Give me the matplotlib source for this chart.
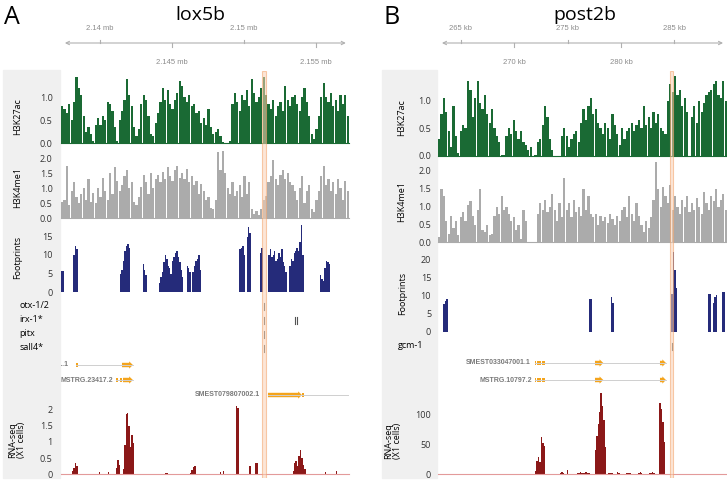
import numpy as np
import matplotlib
matplotlib.use("Agg")
import matplotlib.pyplot as plt
from matplotlib.patches import Rectangle, Polygon

plt.rcParams['font.family'] = ['Open Sans', 'DejaVu Sans']

W, H = 727, 484

# ---------------- panel A : lox5b (positions in kb) ----------------
a_xlim = (2137.3, 2157.3)
a_ruler_top = [2140, 2150]
a_ruler_top_labels = ['2.14 mb', '2.15 mb']
a_ruler_bot = [2145, 2155]
a_ruler_bot_labels = ['2.145 mb', '2.155 mb']
a_ruler_ends = (2137.57, 2157.08)
a_highlight = (2151.25, 2151.53)

a_h3k27ac = [0.8, 0.75, 0.65, 0.85, 0.5, 0.9, 1.45, 1.2, 1.05, 0.6,
             0.25, 0.35, 0.2, 0.05, 0.4, 0.55, 0.4, 0.6, 0.5, 0.9,
             0.85, 0.7, 0.35, 0.05, 0.5, 0.7, 0.95, 1.4, 1.05, 0.8,
             0.35, 0.15, 0.3, 0.85, 1.05, 0.95, 0.6, 0.2, 0.15, 0.45,
             0.65, 0.9, 1.2, 0.95, 1.15, 0.85, 0.75, 0.95, 1.1, 1.35,
             1.25, 1.0, 0.9, 1.05, 0.8, 0.85, 0.65, 0.7, 0.45, 0.55,
             0.4, 0.75, 0.35, 0.2, 0.25, 0.3, 0.15, 0.02, 0.0, 0.0,
             0.05, 0.85, 1.1, 0.9, 0.7, 1.05, 0.95, 1.15, 0.8, 1.4,
             1.1, 0.9, 1.0, 1.2, 1.45, 1.05, 0.85, 0.75, 0.95, 0.6,
             0.8, 0.9, 0.7, 1.25, 0.95, 0.8, 1.0, 1.05, 0.85, 0.7,
             1.0, 1.2, 0.9, 0.6, 0.2, 0.1, 0.3, 0.6, 1.0, 1.3,
             1.0, 0.9, 1.1, 0.8, 0.95, 0.7, 1.05, 0.85, 1.05, 0.6]

a_h3k4me1 = [0.55, 0.6, 1.75, 0.45, 0.9, 1.2, 0.7, 0.5, 0.8, 1.0,
             0.6, 1.3, 0.55, 0.85, 0.5, 1.0, 0.7, 1.35, 0.9, 0.6,
             1.5, 0.8, 1.7, 1.25, 0.9, 1.1, 1.4, 1.6, 1.0, 1.2,
             0.55, 0.45, 0.7, 1.05, 1.45, 1.2, 0.8, 1.5, 1.0, 1.3,
             1.45, 1.2, 1.55, 1.3, 1.7, 1.4, 1.25, 1.6, 1.75, 1.35,
             1.5, 1.3, 1.65, 1.2, 1.4, 1.1, 1.25, 0.8, 1.15, 0.9,
             0.6, 0.7, 0.35, 0.3, 0.6, 2.2, 1.6, 2.25, 1.5, 1.0,
             0.8, 1.2, 0.75, 0.9, 1.1, 0.7, 1.4, 0.8, 1.2, 0.3,
             0.15, 0.25, 0.1, 0.3, 0.6, 0.75, 1.2, 1.4, 1.95, 1.3,
             1.1, 1.45, 1.6, 1.3, 1.5, 1.2, 1.1, 0.9, 0.6, 1.0,
             1.4, 0.5, 0.9, 1.1, 0.3, 0.2, 0.6, 0.9, 1.4, 1.75,
             1.1, 1.3, 0.9, 1.2, 0.8, 1.3, 1.0, 0.6, 1.25, 0.9]

a_fp_step = 0.1
a_footprints = [
    (2137.3, [5.7, 5.7]),
    (2138.15, [10, 12.5, 11.5]),
    (2141.39, [5, 6, 8.5, 11, 12.5, 13, 12]),
    (2142.96, [7.5, 6, 4.5]),
    (2144.1, [2.5, 4, 5.5, 8, 10, 9, 7, 6.5, 5, 8.5, 9.5, 10.5, 11, 9.5, 8, 6, 4]),
    (2146.02, [7, 6.5, 5.5]),
    (2146.43, [5.5, 7, 8.5, 9, 10, 6]),
    (2149.68, [11.5, 12, 12.5, 10]),
    (2150.19, [15, 17.5, 16]),
    (2151.11, [10.5, 12]),
    (2151.69, [10, 11.5, 9.5, 10, 11, 8.5, 9, 10.5, 9.5, 11.5, 8, 7, 5.5]),
    (2153.15, [7, 9, 8.5, 10.5, 11, 12, 11, 13.5, 18, 10]),
    (2155.28, [4.5, 3.5, 3, 6.5, 8.5, 8, 7.5]),
]

a_motifs = ['otx-1/2', 'irx-1*', 'pitx', 'sall4*']
a_motif_hits = [[2151.39], [2151.39, 2153.54, 2153.66], [2151.39], [2151.39]]

a_gene_names = ['SMEST079807001.1', 'MSTRG.23417.2', 'SMEST079807002.1']
a_gene_label_end = [2137.82, 2140.95, 2151.11]
a_gene_spans = [(2138.33, 2142.29), (2141.11, 2142.29), (2151.67, 2157.29)]
a_gene_exons = [[(2138.33, 2138.47)],
                [(2141.11, 2141.25), (2141.39, 2141.53)],
                [(2154.06, 2154.17)]]
a_gene_arrows = [[(2141.53, 2142.29)], [(2141.6, 2142.29)], [(2151.67, 2154.03)]]

a_rna_step = 0.1
a_rna = [
    (2138.06, [0.1, 0.2, 0.35, 0.25]),
    (2139.93, [0.08]),
    (2140.56, [0.07]),
    (2141.11, [0.2, 0.45, 0.3]),
    (2141.58, [0.15, 0.9, 1.85, 1.9, 1.5, 0.85, 1.2, 0.95]),
    (2144.51, [0.05, 0.05]),
    (2146.25, [0.05, 0.12, 0.22, 0.25]),
    (2148.33, [0.08]),
    (2148.54, [0.1]),
    (2149.44, [2.1, 2.05]),
    (2150.38, [0.25]),
    (2150.76, [0.35, 0.35]),
    (2153.38, [0.1, 0.35, 0.4, 0.25, 0.55, 0.75, 0.5, 0.3, 0.15]),
    (2155.63, [0.08]),
    (2156.39, [0.1]),
]

# ---------------- panel B : post2b (positions in kb) ----------------
b_xlim = (262.85, 289.93)
b_ruler_top = [265, 275, 285]
b_ruler_top_labels = ['265 kb', '275 kb', '285 kb']
b_ruler_bot = [270, 280]
b_ruler_bot_labels = ['270 kb', '280 kb']
b_ruler_ends = (263.22, 289.56)
b_highlight = (284.59, 284.87)

b_h3k27ac = [0.3, 0.75, 1.05, 0.8, 0.45, 0.15, 0.9, 0.35, 0.05, 0.45,
             0.55, 0.5, 1.35, 1.2, 0.7, 1.05, 1.35, 0.95, 0.85, 1.1,
             0.75, 0.6, 0.85, 0.5, 0.35, 0.25, 0.02, 0.02, 0.35, 0.5,
             0.4, 0.65, 0.45, 0.3, 0.45, 0.25, 0.2, 0.1, 0.15, 0.0,
             0.02, 0.25, 0.3, 0.55, 0.9, 0.7, 0.3, 0.1, 0.0, 0.0,
             0.0, 0.35, 0.5, 0.35, 0.15, 0.3, 0.4, 0.45, 0.25, 0.6,
             0.85, 0.65, 0.9, 1.05, 0.75, 0.85, 0.6, 0.5, 0.4, 0.6,
             0.5, 0.3, 0.75, 0.55, 0.4, 0.2, 0.5, 0.3, 0.45, 0.5,
             0.6, 0.45, 0.55, 0.65, 0.5, 0.9, 0.55, 0.7, 0.5, 0.8,
             0.6, 0.75, 0.5, 0.45, 0.4, 1.0, 1.3, 1.15, 1.45, 1.1,
             1.2, 0.9, 1.05, 0.8, 0.0, 0.7, 0.9, 0.6, 1.0, 0.8,
             0.95, 1.1, 1.15, 1.2, 1.3, 1.35, 1.1, 1.05, 1.35, 1.0]

b_h3k4me1 = [0.15, 1.5, 1.3, 0.6, 0.25, 0.75, 0.4, 0.6, 0.2, 0.7,
             0.85, 0.6, 1.05, 1.15, 0.75, 0.5, 0.9, 1.5, 0.35, 0.3,
             0.5, 0.2, 0.25, 0.75, 1.0, 0.8, 1.3, 0.9, 1.0, 0.8,
             0.6, 0.7, 0.35, 0.5, 0.1, 0.9, 0.6, 0.0, 0.0, 0.0,
             0.02, 0.8, 1.1, 0.9, 1.2, 0.85, 1.0, 1.35, 0.9, 0.6,
             1.1, 0.7, 1.8, 0.9, 1.1, 0.7, 1.2, 0.85, 1.0, 0.75,
             1.5, 0.9, 1.3, 0.8, 0.7, 0.8, 0.5, 0.75, 0.6, 0.7,
             0.55, 0.8, 0.65, 0.5, 0.75, 0.6, 0.9, 1.0, 0.7, 1.3,
             0.8, 0.6, 1.1, 0.75, 0.5, 0.3, 0.6, 0.4, 0.7, 1.2,
             2.25, 1.5, 1.0, 1.55, 1.3, 1.1, 1.6, 0.9, 1.3, 1.0,
             0.8, 1.2, 1.0, 1.3, 0.85, 1.1, 0.9, 1.25, 1.0, 0.8,
             1.4, 1.1, 0.9, 1.3, 1.15, 1.5, 1.0, 1.2, 1.35, 0.9]

b_fp_step = 0.135
b_footprints = [
    (263.34, [7.5, 8.5, 9]),
    (277.02, [9, 9]),
    (279.06, [9.5, 8]),
    (284.72, [10.5, 22, 17, 12]),
    (288.12, [10.5, 10.5]),
    (288.59, [8, 9.5, 10]),
    (289.49, [11, 11]),
]

b_motifs = ['gcm-1']
b_motif_hits = [[284.75]]

b_gene_names = ['SMEST033047001.1', 'MSTRG.10797.2']
b_gene_label_end = [271.53, 271.65]
b_gene_spans = [(271.94, 284.21), (271.94, 284.21)]
b_gene_exons = [[(271.94, 272.05), (272.12, 272.5), (272.56, 272.87)],
                [(271.94, 272.05), (272.12, 272.5), (272.56, 272.87)]]
b_gene_arrows = [[(277.56, 278.34), (283.65, 284.21)],
                 [(277.56, 278.34), (283.65, 284.21)]]

b_rna_step = 0.135
b_rna = [
    (271.94, [5, 22, 28, 20, 62, 52, 48]),
    (274.28, [2, 3, 2]),
    (274.9, [6]),
    (275.84, [2, 2, 3, 2, 1, 2, 3, 2, 2]),
    (277.53, [40, 65, 85, 105, 137, 115, 92, 45]),
    (278.8, [2, 1, 2]),
    (279.6, [3, 2]),
    (280.5, [2, 2, 1]),
    (281.6, [2, 3, 2]),
    (282.6, [2, 2, 3, 2]),
    (283.6, [120, 110, 88, 55]),
]

# colours
GREEN = '#1a6a34'
GREY = '#ababab'
NAVY = '#252b7a'
DARKRED = '#8b1818'
ORANGE = '#f4a41c'
LABELBG = '#f0f0f0'

fig = plt.figure(figsize=(W / 100, H / 100), dpi=100)


def px_axes(x0, y0, x1, y1):
    ax = fig.add_axes([x0 / W, 1 - y1 / H, (x1 - x0) / W, (y1 - y0) / H])
    ax.patch.set_visible(False)
    for s in ax.spines.values():
        s.set_visible(False)
    ax.set_xticks([])
    ax.set_yticks([])
    return ax


def ftext(x, y, s, **kw):
    fig.text(x / W, 1 - y / H, s, **kw)


def yticks(ax, ticks, labels, pad):
    ax.set_yticks(ticks)
    ax.set_yticklabels(labels, fontsize=6.5, color='#333333')
    ax.tick_params(axis='y', length=0, pad=pad)


def signal(xpx, ytop, ybase, unit, xlim, vals, color, ticks, labels, pad):
    ax = px_axes(xpx[0], ytop, xpx[1], ybase)
    ax.set_xlim(xlim)
    ax.set_ylim(0, (ybase - ytop) / unit)
    edges = np.linspace(xlim[0], xlim[1], len(vals) + 1)
    ax.bar(edges[:-1], vals, width=(edges[1] - edges[0]) * 0.92, align='edge',
           color=color, linewidth=0)
    ax.axhline(0, color=color, lw=0.8, clip_on=False)
    yticks(ax, ticks, labels, pad)
    return ax


def peaks(xpx, ytop, ybase, unit, xlim, pk, step, color, ticks, labels, pad):
    ax = px_axes(xpx[0], ytop, xpx[1], ybase)
    ax.set_xlim(xlim)
    ax.set_ylim(0, (ybase - ytop) / unit)
    for start, hs in pk:
        xs = start + step * np.arange(len(hs))
        ax.bar(xs, hs, width=step, align='edge', color=color, linewidth=0)
    yticks(ax, ticks, labels, pad)
    return ax


def ruler(xpx, xlim, ends, top, top_lab, bot, bot_lab):
    ax = px_axes(xpx[0], 18, xpx[1], 70)
    ax.set_xlim(xlim)
    ax.set_ylim(70, 18)
    ax.annotate('', xy=(ends[1], 43), xytext=(ends[0], 43),
                arrowprops=dict(arrowstyle='<->', color='#b0b0b0', lw=0.8,
                                shrinkA=0, shrinkB=0, mutation_scale=6))
    for t, lab in zip(top, top_lab):
        ax.plot([t, t], [39.5, 43], color='#b0b0b0', lw=0.8)
        ax.text(t, 28, lab, ha='center', va='center', fontsize=5.5,
                color='#8c8c8c', family='Liberation Sans')
    for t, lab in zip(bot, bot_lab):
        ax.plot([t, t], [43, 47], color='#b0b0b0', lw=0.8)
        ax.text(t, 62, lab, ha='center', va='center', fontsize=5.5,
                color='#8c8c8c', family='Liberation Sans')


def genes(xpx, ytop, ybot, xlim, rows, names, ends, spans, exons, arrows):
    ax = px_axes(xpx[0], ytop, xpx[1], ybot)
    ax.set_xlim(xlim)
    ax.set_ylim(ybot, ytop)
    tip = (xlim[1] - xlim[0]) * 0.013
    for y, name, te, sp, ex, ar in zip(rows, names, ends, spans, exons, arrows):
        ax.plot(sp, [y, y], color='#cfcfcf', lw=0.7)
        for s, e in ex:
            ax.add_patch(Rectangle((s, y - 2.2), e - s, 4.4, color=ORANGE, lw=0))
        for s, e in ar:
            t = min(tip, (e - s) * 0.6)
            ax.add_patch(Polygon([(s, y - 2.2), (e - t, y - 2.2), (e - t, y - 3.6),
                                  (e, y), (e - t, y + 3.6), (e - t, y + 2.2),
                                  (s, y + 2.2)], closed=True, color=ORANGE, lw=0))
        ax.text(te, y, name, ha='right', va='center', fontsize=5, color='#7a7a7a',
                fontweight='bold', family='Liberation Sans', clip_on=True)


def motifs(xpx, ytop, ybot, xlim, rows, hits):
    ax = px_axes(xpx[0], ytop, xpx[1], ybot)
    ax.set_xlim(xlim)
    ax.set_ylim(ybot, ytop)
    for y, hs in zip(rows, hits):
        for h in hs:
            ax.plot([h, h], [y - 3.5, y + 3.5], color='#555555', lw=0.8)


def highlight(xpx, xlim, span):
    ax = px_axes(xpx[0], 71, xpx[1], 478)
    ax.set_xlim(xlim)
    ax.axvspan(span[0], span[1], facecolor='#fbd3b6', alpha=0.55,
               edgecolor='#f3a36a', lw=0.8)


# label backgrounds
for x0, x1 in [(3, 60), (382, 437)]:
    fig.add_artist(Rectangle((x0 / W, 1 - 478 / H), (x1 - x0) / W, 408 / H,
                             transform=fig.transFigure, color=LABELBG, zorder=-5))

# titles
ftext(4, 24, 'A', fontsize=18)
ftext(200, 20, 'lox5b', fontsize=14, ha='center')
ftext(384, 24, 'B', fontsize=18)
ftext(585, 20, 'post2b', fontsize=14, ha='center')

# ---------------- draw panel A ----------------
AX = (61, 349)
ruler(AX, a_xlim, a_ruler_ends, a_ruler_top, a_ruler_top_labels,
      a_ruler_bot, a_ruler_bot_labels)
signal(AX, 71, 143.3, 46, a_xlim, a_h3k27ac, GREEN,
       [0, 0.5, 1.0], ['0.0', '0.5', '1.0'], 6)
signal(AX, 150, 218.3, 30, a_xlim, a_h3k4me1, GREY,
       [0, 0.5, 1.0, 1.5, 2.0], ['0.0', '0.5', '1.0', '1.5', '2.0'], 6)
peaks(AX, 222, 292, 3.7, a_xlim, a_footprints, a_fp_step, NAVY,
      [0, 5, 10, 15], ['0', '5', '10', '15'], 6)
motifs(AX, 298, 356, a_xlim, [306, 320, 334, 348], a_motif_hits)
genes((60.5, 349), 357, 402, (2137.26, 2157.3), [365, 380, 395], a_gene_names,
      a_gene_label_end, a_gene_spans, a_gene_exons, a_gene_arrows)
ax = peaks(AX, 405, 474.3, 32.5, a_xlim, a_rna, a_rna_step, DARKRED,
           [0, 0.5, 1, 1.5, 2], ['0', '0.5', '1', '1.5', '2'], 6)
ax.axhline(0, color='#e39a9a', lw=0.8, clip_on=False)
highlight(AX, a_xlim, a_highlight)

ftext(18, 117, 'H3K27ac', rotation=90, ha='center', va='center', fontsize=6.5)
ftext(18, 187, 'H3K4me1', rotation=90, ha='center', va='center', fontsize=6.5)
ftext(18, 257, 'Footprints', rotation=90, ha='center', va='center', fontsize=6.5)
ftext(17, 440, 'RNA-seq\n(X1 cells)', rotation=90, ha='center', va='center',
      fontsize=6.5, linespacing=1.1)
for y, m in zip([306, 320, 334, 348], a_motifs):
    ftext(19, y, m, ha='left', va='center', fontsize=6.5)

# ---------------- draw panel B ----------------
BX = (438, 727)
ruler(BX, b_xlim, b_ruler_ends, b_ruler_top, b_ruler_top_labels,
      b_ruler_bot, b_ruler_bot_labels)
signal(BX, 71, 155.7, 55, b_xlim, b_h3k27ac, GREEN,
       [0, 0.5, 1.0], ['0.0', '0.5', '1.0'], 5)
signal(BX, 160, 242.5, 35.8, b_xlim, b_h3k4me1, GREY,
       [0, 0.5, 1.0, 1.5, 2.0], ['0.0', '0.5', '1.0', '1.5', '2.0'], 5)
peaks(BX, 250, 331.7, 3.63, b_xlim, b_footprints, b_fp_step, NAVY,
      [0, 5, 10, 15, 20], ['0', '5', '10', '15', '20'], 5)
motifs(BX, 338, 354, b_xlim, [346], b_motif_hits)
genes(BX, 355, 390, b_xlim, [363, 380], b_gene_names, b_gene_label_end,
      b_gene_spans, b_gene_exons, b_gene_arrows)
ax = peaks(BX, 390, 474, 0.59, b_xlim, b_rna, b_rna_step, DARKRED,
           [0, 50, 100], ['0', '50', '100'], 5)
ax.axhline(0, color='#e39a9a', lw=0.8, clip_on=False)
highlight(BX, b_xlim, b_highlight)

ftext(402, 118, 'H3K27ac', rotation=90, ha='center', va='center', fontsize=6.5)
ftext(402, 201, 'H3K4me1', rotation=90, ha='center', va='center', fontsize=6.5)
ftext(403, 293, 'Footprints', rotation=90, ha='center', va='center', fontsize=6.5)
ftext(393, 441, 'RNA-seq\n(X1 cells)', rotation=90, ha='center', va='center',
      fontsize=6.5, linespacing=1.1)
ftext(398, 346, 'gcm-1', ha='left', va='center', fontsize=6.5)

fig.savefig('out.png', dpi=100)
